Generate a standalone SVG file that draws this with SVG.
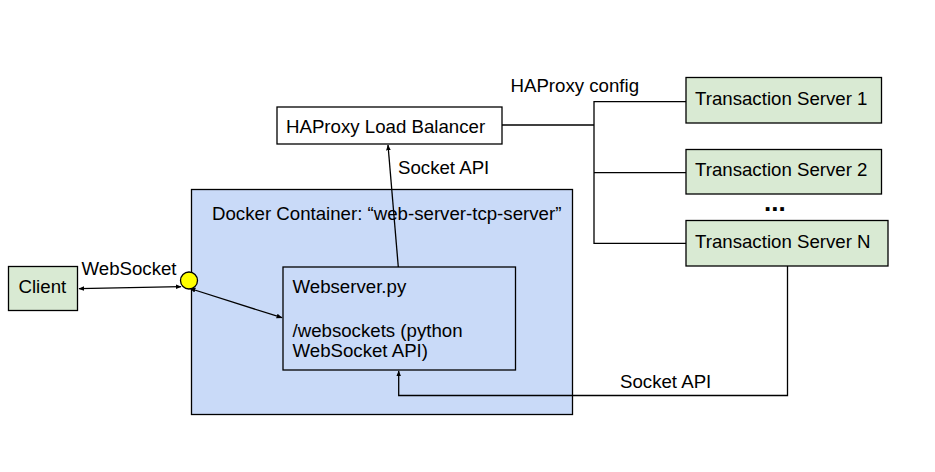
<svg xmlns="http://www.w3.org/2000/svg" width="935" height="472" viewBox="0 0 935 472">
<defs>
<style>
text{font-family:"Liberation Sans",Arial,sans-serif;font-size:18.67px;fill:#000}
.box{stroke:#000;stroke-width:1.3}
.green{fill:#d9ead3}
.white{fill:#fff}
.blue{fill:#c9daf8}
.ln{fill:none;stroke:#000;stroke-width:1.3}
</style>
<marker id="ah" viewBox="0 0 10 10" refX="9" refY="5" markerWidth="6" markerHeight="6" markerUnits="userSpaceOnUse" orient="auto-start-reverse">
<path d="M0,1 L10,5 L0,9 Z" fill="#000"/>
</marker>
</defs>
<rect width="935" height="472" fill="#fff"/>

<g id="docker">
<rect class="box blue" x="191.5" y="189.5" width="381" height="225"/>
<text x="212" y="220">Docker Container: “web-server-tcp-server”</text>
</g>

<g id="haproxy">
<rect class="box white" x="277" y="107" width="225" height="37"/>
<text x="286" y="133">HAProxy Load Balancer</text>
</g>

<g id="client">
<rect class="box green" x="8.5" y="266.5" width="69" height="44"/>
<text x="18.5" y="293">Client</text>
</g>

<g id="webserver">
<rect class="box blue" x="283" y="267" width="232.5" height="103"/>
<text x="292.5" y="292.5">Webserver.py</text>
<text x="292.5" y="336.5">/websockets (python</text>
<text x="292.5" y="357">WebSocket API)</text>
</g>

<g id="ts1">
<rect class="box green" x="686" y="77.5" width="195.5" height="45.5"/>
<text x="695" y="105">Transaction Server 1</text>
</g>
<g id="ts2">
<rect class="box green" x="686" y="149.5" width="195.5" height="44.5"/>
<text x="695" y="176">Transaction Server 2</text>
</g>
<g id="tsn">
<rect class="box green" x="686" y="220.5" width="202" height="45.5"/>
<text x="695" y="248">Transaction Server N</text>
</g>

<g id="ellipsis">
<text x="764" y="211" font-weight="bold" style="font-size:26px">...</text>
</g>

<g id="port">
<circle cx="189" cy="280.5" r="8.5" fill="#ffff00" stroke="#000" stroke-width="1.3"/>
</g>

<g id="connectors">
<line class="ln" x1="79" y1="288.7" x2="181" y2="286.7" marker-start="url(#ah)" marker-end="url(#ah)"/>
<line class="ln" x1="190" y1="288.5" x2="282" y2="317.7" marker-start="url(#ah)" marker-end="url(#ah)"/>
<line class="ln" x1="398.3" y1="267" x2="388" y2="145" marker-end="url(#ah)"/>
<polyline class="ln" points="502,125 594,125"/>
<polyline class="ln" points="686,101.7 594,101.7 594,243.3 686,243.3"/>
<polyline class="ln" points="594,172.7 686,172.7"/>
<polyline class="ln" points="787.5,266 787.5,395.5 398.7,395.5 398.7,371" marker-end="url(#ah)"/>
</g>

<g id="labels">
<text x="81.5" y="275">WebSocket</text>
<text x="398" y="174">Socket API</text>
<text x="510.5" y="92">HAProxy config</text>
<text x="620" y="388">Socket API</text>
</g>
</svg>
